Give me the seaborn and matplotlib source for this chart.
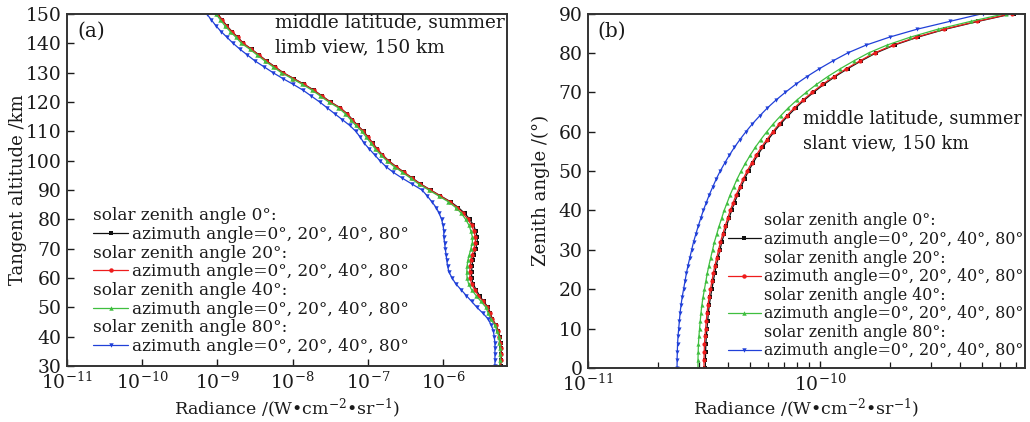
import numpy as np
import matplotlib
matplotlib.use("Agg")
import matplotlib.pyplot as plt
import seaborn as sns
from matplotlib.lines import Line2D
from matplotlib.ticker import LogLocator, FixedLocator, NullLocator, NullFormatter

# ---------------- data ----------------
# panel (a): tangent altitude (km) and log10 radiance
alt_a = list(range(30, 152, 2))
a_black_log = [-5.235, -5.225, -5.225, -5.225, -5.235, -5.245, -5.265, -5.295, -5.345, -5.37,
               -5.40, -5.46, -5.515, -5.56, -5.60, -5.62, -5.62, -5.615, -5.605, -5.585,
               -5.565, -5.545, -5.545, -5.565, -5.595, -5.645, -5.71, -5.795, -5.90, -6.035,
               -6.165, -6.295, -6.405, -6.515, -6.625, -6.725, -6.805, -6.875, -6.935, -6.995,
               -7.055, -7.135, -7.205, -7.275, -7.365, -7.495, -7.605, -7.715, -7.845, -7.985,
               -8.125, -8.235, -8.345, -8.445, -8.545, -8.655, -8.725, -8.805, -8.875, -8.935,
               -8.995]
a_red_log = [-5.24, -5.23, -5.23, -5.23, -5.24, -5.25, -5.27, -5.30, -5.35, -5.38,
             -5.41, -5.47, -5.53, -5.58, -5.62, -5.64, -5.645, -5.64, -5.63, -5.61,
             -5.59, -5.57, -5.57, -5.59, -5.62, -5.67, -5.73, -5.81, -5.91, -6.04,
             -6.17, -6.30, -6.41, -6.52, -6.63, -6.73, -6.81, -6.88, -6.94, -7.00,
             -7.06, -7.14, -7.21, -7.28, -7.37, -7.50, -7.61, -7.72, -7.85, -7.99,
             -8.13, -8.24, -8.35, -8.45, -8.55, -8.66, -8.73, -8.81, -8.88, -8.94,
             -9.00]
a_green_log = [-5.25, -5.24, -5.24, -5.24, -5.25, -5.26, -5.28, -5.315, -5.365, -5.40,
               -5.43, -5.495, -5.56, -5.62, -5.66, -5.68, -5.685, -5.68, -5.67, -5.65,
               -5.63, -5.61, -5.61, -5.63, -5.655, -5.70, -5.755, -5.83, -5.93, -6.06,
               -6.19, -6.32, -6.43, -6.54, -6.65, -6.75, -6.83, -6.90, -6.96, -7.02,
               -7.08, -7.16, -7.23, -7.30, -7.39, -7.52, -7.63, -7.74, -7.87, -8.01,
               -8.15, -8.26, -8.37, -8.47, -8.57, -8.68, -8.75, -8.83, -8.90, -8.96,
               -9.02]
a_blue_log = [-5.31, -5.31, -5.31, -5.31, -5.31, -5.32, -5.33, -5.36, -5.40, -5.47,
              -5.55, -5.62, -5.69, -5.76, -5.83, -5.88, -5.92, -5.94, -5.95, -5.96,
              -5.97, -5.98, -5.99, -5.99, -6.00, -6.02, -6.05, -6.09, -6.15, -6.21,
              -6.28, -6.41, -6.54, -6.66, -6.76, -6.84, -6.91, -6.98, -7.05, -7.10,
              -7.16, -7.24, -7.34, -7.44, -7.54, -7.64, -7.75, -7.86, -7.99, -8.13,
              -8.26, -8.38, -8.50, -8.60, -8.70, -8.79, -8.87, -8.95, -9.02, -9.08,
              -9.14]

# panel (b): zenith angle (deg) and log10 radiance
zen_b = list(range(0, 92, 2))
b_black_log = [-10.494, -10.494, -10.493, -10.492, -10.490, -10.487, -10.484, -10.481, -10.477, -10.472,
               -10.466, -10.460, -10.454, -10.447, -10.439, -10.431, -10.423, -10.413, -10.403, -10.392,
               -10.381, -10.368, -10.355, -10.340, -10.325, -10.308, -10.289, -10.269, -10.247, -10.223,
               -10.197, -10.169, -10.138, -10.105, -10.068, -10.027, -9.983, -9.934, -9.880, -9.821,
               -9.758, -9.678, -9.578, -9.460, -9.318, -9.165]
b_red_log = [-10.500, -10.500, -10.499, -10.498, -10.496, -10.493, -10.490, -10.487, -10.483, -10.478,
             -10.472, -10.466, -10.460, -10.453, -10.445, -10.437, -10.429, -10.419, -10.409, -10.398,
             -10.387, -10.374, -10.361, -10.346, -10.331, -10.314, -10.295, -10.275, -10.253, -10.229,
             -10.203, -10.175, -10.144, -10.111, -10.074, -10.033, -9.989, -9.940, -9.886, -9.827,
             -9.764, -9.684, -9.584, -9.466, -9.324, -9.171]
b_green_log = [-10.526, -10.526, -10.525, -10.524, -10.522, -10.519, -10.516, -10.513, -10.509, -10.504,
               -10.498, -10.492, -10.486, -10.479, -10.471, -10.463, -10.455, -10.445, -10.435, -10.424,
               -10.413, -10.400, -10.387, -10.372, -10.357, -10.340, -10.321, -10.301, -10.279, -10.255,
               -10.229, -10.201, -10.170, -10.137, -10.100, -10.059, -10.015, -9.966, -9.912, -9.853,
               -9.790, -9.710, -9.610, -9.492, -9.350, -9.197]
b_blue_log = [-10.616, -10.616, -10.615, -10.614, -10.612, -10.609, -10.606, -10.603, -10.599, -10.594,
              -10.588, -10.582, -10.576, -10.569, -10.561, -10.553, -10.545, -10.535, -10.525, -10.514,
              -10.503, -10.490, -10.477, -10.462, -10.447, -10.430, -10.411, -10.391, -10.369, -10.345,
              -10.319, -10.291, -10.260, -10.227, -10.190, -10.149, -10.105, -10.056, -10.002, -9.943,
              -9.880, -9.800, -9.700, -9.582, -9.440, -9.297]

header_labels = ["solar zenith angle 0°:", "solar zenith angle 20°:",
                 "solar zenith angle 40°:", "solar zenith angle 80°:"]
entry_label = "azimuth angle=0°, 20°, 40°, 80°"
xlabel = "Radiance /(W\u2022cm$^{-2}$\u2022sr$^{-1}$)"

colors = ["#111111", "#ee1c1c", "#3fbf3f", "#2040d8"]
markers = ["s", "o", "^", "v"]

# ---------------- style ----------------
sns.set_theme(style="ticks")
plt.rcParams["font.family"] = ["DejaVu Serif"]
plt.rcParams["mathtext.fontset"] = "dejavuserif"
plt.rcParams["axes.linewidth"] = 1.4
plt.rcParams["xtick.direction"] = "in"
plt.rcParams["ytick.direction"] = "in"
TXT = "#1a1a1a"

fig = plt.figure(figsize=(10.30, 4.22), dpi=100)
ax_a = fig.add_axes([0.065, 0.1327, 0.4272, 0.8341])
ax_b = fig.add_axes([0.5709, 0.128, 0.4242, 0.840])


def draw(ax, yvals, series, ms):
    for arr, c, m in zip(series, colors, markers):
        sns.lineplot(x=10.0 ** np.array(arr), y=yvals, orient="y", sort=False,
                     estimator=None, color=c, marker=m, markersize=ms,
                     markeredgewidth=0, linewidth=0.9, ax=ax)


draw(ax_a, alt_a, [a_black_log, a_red_log, a_green_log, a_blue_log], 3.2)
draw(ax_b, zen_b, [b_black_log, b_red_log, b_green_log, b_blue_log], 3.0)

# axes (a)
ax_a.set_xscale("log")
ax_a.set_xlim(1e-11, 10 ** -5.15)
ax_a.set_ylim(30, 150)
ax_a.xaxis.set_major_locator(FixedLocator([1e-11, 1e-10, 1e-9, 1e-8, 1e-7, 1e-6]))
ax_a.xaxis.set_minor_locator(NullLocator())
ax_a.set_yticks(range(30, 151, 10))
ax_a.set_xlabel(xlabel, fontsize=12.5, color=TXT, labelpad=3)
ax_a.set_ylabel("Tangent altitude /km", fontsize=13, color=TXT, labelpad=-1)

# axes (b)
ax_b.set_xscale("log")
ax_b.set_xlim(1e-11, 10 ** -9.116)
ax_b.set_ylim(0, 90)
ax_b.xaxis.set_major_locator(FixedLocator([1e-11, 1e-10]))
ax_b.xaxis.set_minor_locator(LogLocator(base=10, subs=np.arange(2, 10)))
ax_b.xaxis.set_minor_formatter(NullFormatter())
ax_b.set_yticks(range(0, 91, 10))
ax_b.set_xlabel(xlabel, fontsize=12.5, color=TXT, labelpad=1)
ax_b.set_ylabel("Zenith angle /(°)", fontsize=13, color=TXT, labelpad=6)

for ax in (ax_a, ax_b):
    ax.tick_params(axis="both", which="major", labelsize=13.5, length=5, width=1.0,
                   colors=TXT, pad=4)
    ax.tick_params(axis="both", which="minor", length=4, width=0.9, colors=TXT)
    for s in ax.spines.values():
        s.set_visible(True)
        s.set_color("#333333")

# annotations
ax_a.text(0.024, 0.978, "(a)", transform=ax_a.transAxes, fontsize=14.5, color=TXT,
          va="top", ha="left")
ax_a.text(0.472, 1.001, "middle latitude, summer\nlimb view, 150 km", transform=ax_a.transAxes,
          fontsize=13.3, color=TXT, va="top", ha="left", linespacing=1.48)
ax_b.text(0.022, 0.978, "(b)", transform=ax_b.transAxes, fontsize=14.5, color=TXT,
          va="top", ha="left")
ax_b.text(0.492, 0.729, "middle latitude, summer\nslant view, 150 km", transform=ax_b.transAxes,
          fontsize=12.7, color=TXT, va="top", ha="left", linespacing=1.52)


def make_legend(ax, anchor, fs, ls, zero_header):
    handles, labels = [], []
    for h, c, m in zip(header_labels, colors, markers):
        handles.append(Line2D([], [], linestyle="none", marker=None))
        labels.append(h)
        handles.append(Line2D([], [], color=c, marker=m, markersize=3.2,
                              markeredgewidth=0, linewidth=0.9))
        labels.append(entry_label)
    leg = ax.legend(handles, labels, loc="upper left", bbox_to_anchor=anchor,
                    frameon=False, fontsize=fs, handlelength=2.1, handletextpad=0.2,
                    labelspacing=ls, borderpad=0, borderaxespad=0)
    for t in leg.get_texts():
        t.set_color(TXT)
    if zero_header:
        col = leg._legend_handle_box.get_children()[0]
        for i, item in enumerate(col.get_children()):
            if i % 2 == 0:
                hb, tb = item.get_children()
                hb.width = 0
                item.sep = 0
    return leg


make_legend(ax_a, (0.059, 0.451), 12.15, 0.10, True)
make_legend(ax_b, (0.32, 0.439), 11.4, 0.10, False)

fig.savefig("out.png", dpi=100)
